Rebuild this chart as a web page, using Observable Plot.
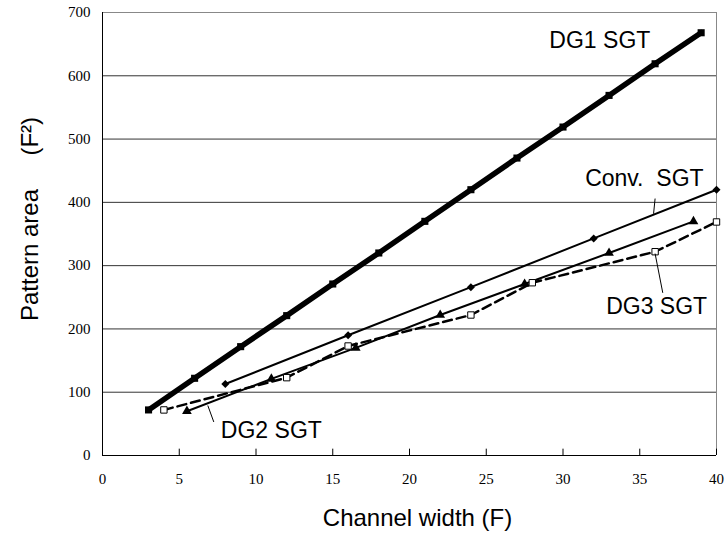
<!DOCTYPE html>
<html><head><meta charset="utf-8">
<script src="https://cdn.jsdelivr.net/npm/d3@7"></script>
<script src="https://cdn.jsdelivr.net/npm/@observablehq/plot@0.6"></script>
<style>body{margin:0;background:#fff}</style>
</head><body><div id="chart"></div>
<script>
const dg1X = [3, 6, 9, 12, 15, 18, 21, 24, 27, 30, 33, 36, 39];
const dg1Y = [72, 122, 172, 221, 271, 320, 370, 420, 470, 519, 569, 619, 668];
const convX = [8, 16, 24, 32, 40];
const convY = [113, 190, 266, 343, 420];
const dg2X = [5.5, 11, 16.5, 22, 27.5, 33, 38.5];
const dg2Y = [70, 121, 170, 222, 271, 320, 370];
const dg3X = [4, 12, 16, 24, 28, 36, 40];
const dg3Y = [72, 123, 173, 222, 273, 322, 369];
const xTicks = [0, 5, 10, 15, 20, 25, 30, 35, 40];
const yTicks = [0, 100, 200, 300, 400, 500, 600, 700];
const labelText = ["DG1 SGT", "Conv.\u00a0 SGT", "DG3 SGT", "DG2 SGT"];
const labelX = [32.4, 35.3, 36.1, 11.0];
const labelY = [655, 437, 235, 39];
const leaderX1 = [36.0, 36.5, 6.86];
const leaderY1 = [406, 257, 79];
const leaderX2 = [35.9, 36.0, 7.25];
const leaderY2 = [382, 319, 53];

const tbl = (xs, ys) => xs.map((x, i) => ({x, y: ys[i]}));
const dg1 = tbl(dg1X, dg1Y), conv = tbl(convX, convY), dg2 = tbl(dg2X, dg2Y), dg3 = tbl(dg3X, dg3Y);
const labels = labelText.map((t, i) => ({t, x: labelX[i], y: labelY[i]}));
const leaders = leaderX1.map((x1, i) => ({x1, y1: leaderY1[i], x2: leaderX2[i], y2: leaderY2[i]}));

const chart = Plot.plot({
  width: 726, height: 542,
  marginLeft: 102, marginRight: 10, marginTop: 12, marginBottom: 87,
  style: {fontFamily: "Liberation Sans", background: "#fff", color: "#000"},
  x: {domain: [0, 40]},
  y: {domain: [0, 700]},
  marks: [
    Plot.ruleY(yTicks.filter(d => d > 0 && d < 700), {stroke: "#333", strokeWidth: 1}),
    Plot.ruleY([700], {stroke: "#888"}),
    Plot.ruleX([40], {stroke: "#888"}),
    Plot.ruleX([0], {stroke: "#000"}),
    Plot.ruleY([0], {stroke: "#000"}),
    Plot.ruleX(xTicks, {y1: 0, y2: 10, stroke: "#000"}),
    Plot.axisX({ticks: xTicks, tickSize: 0, tickPadding: 18, fontFamily: "Liberation Serif", fontSize: 15, label: null}),
    Plot.axisY({ticks: yTicks, tickSize: 0, tickPadding: 12, fontFamily: "Liberation Serif", fontSize: 15, label: null}),
    Plot.line(dg3, {x: "x", y: "y", stroke: "#000", strokeWidth: 2.5, strokeDasharray: "9,5"}),
    Plot.line(dg2, {x: "x", y: "y", stroke: "#000", strokeWidth: 2}),
    Plot.line(conv, {x: "x", y: "y", stroke: "#000", strokeWidth: 2}),
    Plot.line(dg1, {x: "x", y: "y", stroke: "#000", strokeWidth: 5.5}),
    Plot.dot(dg1, {x: "x", y: "y", symbol: "square", r: 4, fill: "#000", stroke: "none"}),
    Plot.dot(conv, {x: "x", y: "y", symbol: "diamond2", r: 3.6, fill: "#000", stroke: "none"}),
    Plot.dot(dg2, {x: "x", y: "y", symbol: "triangle", r: 3.6, fill: "#000", stroke: "none"}),
    Plot.dot(dg3, {x: "x", y: "y", symbol: "square", r: 3.6, fill: "#fff", stroke: "#000", strokeWidth: 1}),
    Plot.link(leaders, {x1: "x1", y1: "y1", x2: "x2", y2: "y2", stroke: "#000", strokeWidth: 1}),
    Plot.text(labels, {x: "x", y: "y", text: "t", fontSize: 23, fill: "#000"}),
    Plot.text(["Channel width (F)"], {frameAnchor: "bottom", dy: 70, dx: 8, fontSize: 24, fill: "#000"}),
    Plot.text(["Pattern area\u00a0\u00a0\u00a0\u00a0\u00a0(F²)"], {frameAnchor: "left", textAnchor: "middle", dx: -72, dy: -15, rotate: -90, fontSize: 24, fill: "#000"})
  ]
});
document.getElementById("chart").appendChild(chart);
</script>
</body></html>
